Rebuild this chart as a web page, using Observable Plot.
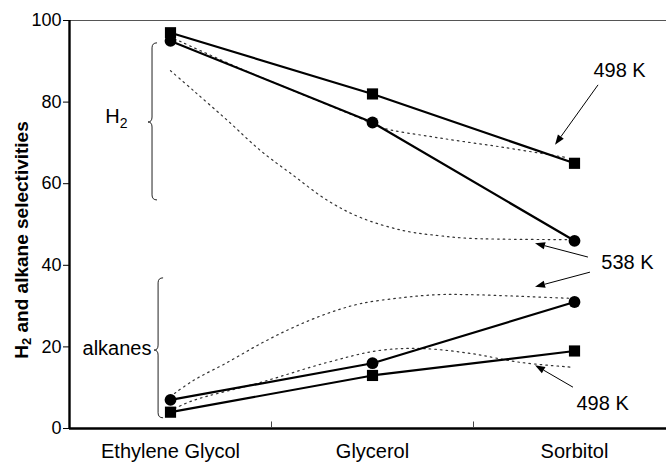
<!DOCTYPE html>
<html>
<head>
<meta charset="utf-8">
<script src="https://cdn.jsdelivr.net/npm/d3@7"></script>
<script src="https://cdn.jsdelivr.net/npm/@observablehq/plot@0.6"></script>
<style>
  html, body { margin: 0; padding: 0; background: #fff; }
</style>
</head>
<body>
<div id="chart"></div>
<script>
// ---- data ----
const categories = ["Ethylene Glycol", "Glycerol", "Sorbitol"];
const yTicks = [0, 20, 40, 60, 80, 100];
const h2Square = [97, 82, 65];     // H2, 498 K (squares)
const h2Circle = [95, 75, 46];     // H2, 538 K (circles)
const alkCircle = [7, 16, 31];     // alkanes, 538 K (circles)
const alkSquare = [4, 13, 19];     // alkanes, 498 K (squares)
// dotted trend curves: [position along category axis, value]
const h2Dot498 = [[0.02,95.5],[0.347,88.2],[0.609,82.8],[0.941,76.0],[1.04,73.8],[1.32,71.3],[1.65,68.9],[1.95,66.5]];
const h2Dot538 = [[0,87.7],[0.114,82.8],[0.282,75.5],[0.446,68.1],[0.609,62.0],[0.777,55.9],[0.941,51.7],[1.153,48.5],[1.322,47.3],[1.485,46.6],[1.98,46.3]];
const alkDot538 = [[0.02,8.6],[0.114,11.8],[0.282,16.2],[0.446,20.8],[0.609,24.8],[0.777,28.2],[0.941,30.6],[1.153,32.1],[1.322,32.8],[1.485,32.8],[1.733,32.4],[1.98,31.9]];
const alkDot498 = [[0.02,4.9],[0.114,6.9],[0.446,11.3],[0.777,16.2],[1.03,19.1],[1.24,19.6],[1.485,18.4],[1.733,16.2],[1.995,15.0]];
// annotation labels and arrows
const annLabels = [
  {text: "498 K", x: 2.223, y: 87.7},
  {text: "538 K", x: 2.262, y: 40.7},
  {text: "498 K", x: 2.139, y: 6.1}
];
const annArrows = [
  {x1: 2.119, y1: 84.1, x2: 1.906, y2: 69.4},
  {x1: 2.069, y1: 41.9, x2: 1.807, y2: 45.3},
  {x1: 2.079, y1: 38.2, x2: 1.807, y2: 34.6},
  {x1: 1.995, y1: 10.0, x2: 1.807, y2: 15.4}
];
// group braces
const braces = [
  {x: -0.089, top: 94.4, bottom: 55.9, mid: 75.0},
  {x: -0.059, top: 36.8, bottom: 2.5, mid: 19.1}
];
const groupLabels = [
  {text: "H", sub: "2", x: -0.265, y: 74.8},
  {text: "alkanes", sub: "", x: -0.265, y: 19.6}
];
const yTitle = ["H", "2", " and alkane selectivities"];

// ---- build tables ----
const toPts = (arr) => arr.map((v, i) => ({x: i, y: v}));
const toCurve = (arr) => arr.map(([x, y]) => ({x, y}));
const solidSeries = [h2Square, h2Circle, alkCircle, alkSquare].map(toPts);
const dottedSeries = [h2Dot498, h2Dot538, alkDot538, alkDot498].map(toCurve);

const font = "'Liberation Sans', Arial, Helvetica, sans-serif";

const chart = Plot.plot({
  width: 666,
  height: 462,
  marginLeft: 69,
  marginRight: 0,
  marginTop: 20,
  marginBottom: 34,
  x: {domain: [-0.5, 2.4554], axis: null},
  y: {domain: [0, 100], axis: null},
  style: {fontFamily: font, background: "white", color: "black", overflow: "visible"},
  marks: [
    // frame lines
    Plot.ruleY([100], {stroke: "#555", strokeWidth: 1}),
    Plot.ruleY([0], {stroke: "black", strokeWidth: 2.4}),
    Plot.ruleX([-0.5], {stroke: "black", strokeWidth: 2.4}),
    Plot.ruleX([0.5, 1.5], {y1: 0, y2: 1.6, stroke: "#444", strokeWidth: 1}),
    Plot.axisY({ticks: yTicks, tickSize: 6, tickPadding: 2, fontSize: 18, label: null, stroke: "black"}),
    Plot.axisX({ticks: [0, 1, 2], tickFormat: (i) => categories[i], tickSize: 0, tickPadding: 15, fontSize: 20, label: null}),
    // dotted trend curves
    ...dottedSeries.map((d) => Plot.line(d, {x: "x", y: "y", curve: "catmull-rom", stroke: "#333", strokeWidth: 1.2, strokeDasharray: "1.6,4"})),
    // solid data lines
    ...solidSeries.map((d) => Plot.line(d, {x: "x", y: "y", stroke: "black", strokeWidth: 2.2})),
    Plot.dot(toPts(h2Square), {x: "x", y: "y", symbol: "square", r: 6.3, fill: "black"}),
    Plot.dot(toPts(alkSquare), {x: "x", y: "y", symbol: "square", r: 6.3, fill: "black"}),
    Plot.dot(toPts(h2Circle), {x: "x", y: "y", symbol: "circle", r: 5.9, fill: "black"}),
    Plot.dot(toPts(alkCircle), {x: "x", y: "y", symbol: "circle", r: 5.9, fill: "black"}),
    // annotation labels
    Plot.text(annLabels, {x: "x", y: "y", text: "text", fontSize: 20, fill: "black"}),
    Plot.text(groupLabels.filter(d => !d.sub), {x: "x", y: "y", text: "text", fontSize: 20, fill: "black"})
  ]
});

document.getElementById("chart").appendChild(chart);

// ---- extra drawing through Plot's own scales ----
const sx = chart.scale("x"), sy = chart.scale("y");
const X = (v) => sx.apply(v), Y = (v) => sy.apply(v);
const svg = d3.select(chart);
const g = svg.append("g");

// arrows with filled heads
annArrows.forEach((a) => {
  const x1 = X(a.x1), y1 = Y(a.y1), x2 = X(a.x2), y2 = Y(a.y2);
  const dx = x2 - x1, dy = y2 - y1, len = Math.hypot(dx, dy);
  const ux = dx / len, uy = dy / len, hl = 10, hw = 3.6;
  const bx = x2 - ux * hl, by = y2 - uy * hl;
  g.append("line").attr("x1", x1).attr("y1", y1).attr("x2", bx).attr("y2", by)
    .attr("stroke", "black").attr("stroke-width", 1);
  g.append("path")
    .attr("d", `M${x2},${y2}L${bx - uy * hw},${by + ux * hw}L${bx + uy * hw},${by - ux * hw}Z`)
    .attr("fill", "black");
});

// curly braces
braces.forEach((b) => {
  const x = X(b.x), t = Y(b.top), bt = Y(b.bottom), m = Y(b.mid);
  const c = 5, tip = 4;
  const d = `M${x + c},${t} Q${x},${t} ${x},${t + c} L${x},${m - c} Q${x},${m} ${x - tip},${m}` +
            ` Q${x},${m} ${x},${m + c} L${x},${bt - c} Q${x},${bt} ${x + c},${bt}`;
  g.append("path").attr("d", d).attr("fill", "none").attr("stroke", "#222").attr("stroke-width", 1);
});

// H2 group label with subscript
groupLabels.filter(d => d.sub).forEach((d) => {
  const t = g.append("text").attr("x", X(d.x)).attr("y", Y(d.y))
    .attr("text-anchor", "middle").attr("font-family", font).attr("font-size", 20).attr("fill", "black");
  t.append("tspan").text(d.text);
  t.append("tspan").attr("font-size", 14).attr("dy", 5).text(d.sub);
});

// y-axis title (rotated, with subscript)
const yt = g.append("text")
  .attr("transform", `translate(21,${(Y(0) + Y(100)) / 2 + 16}) rotate(-90)`)
  .attr("text-anchor", "middle").attr("dominant-baseline", "central")
  .attr("font-family", font).attr("font-size", 19).attr("font-weight", "bold").attr("fill", "black");
yt.append("tspan").text(yTitle[0]);
yt.append("tspan").attr("font-size", 13).attr("dy", 5).text(yTitle[1]);
yt.append("tspan").attr("dy", -5).text(yTitle[2]);
</script>
</body>
</html>
